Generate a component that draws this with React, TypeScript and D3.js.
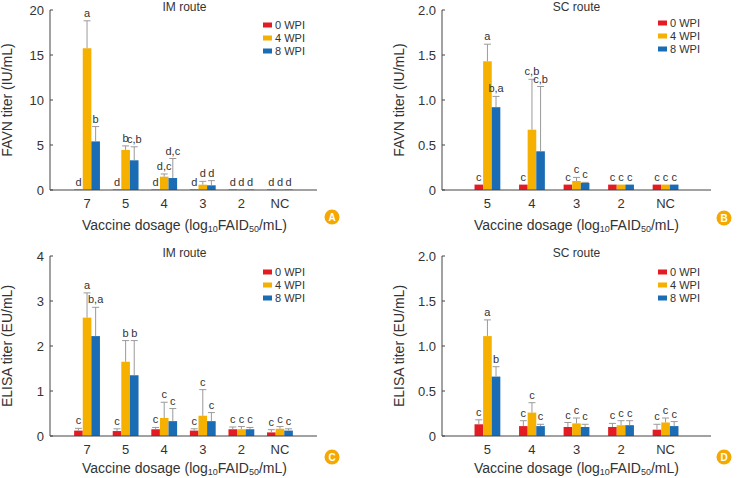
import React from "react";
import * as d3 from "d3";

const seriesNames = ["0 WPI", "4 WPI", "8 WPI"];
const seriesColors = ["#e31b23", "#f5b000", "#1a6cb5"];

const imDoses = ["7", "5", "4", "3", "2", "NC"];
const scDoses = ["5", "4", "3", "2", "NC"];

// Panel A: FAVN, IM route
const favnImMean = [
  [0.05, 0.05, 0.05, 0.05, 0.05, 0.05],
  [15.75, 4.45, 1.48, 0.59, 0.05, 0.05],
  [5.4, 3.3, 1.33, 0.52, 0.05, 0.05],
];
const favnImErr = [
  [0.05, 0.05, 0.05, 0.05, 0.05, 0.05],
  [18.8, 4.9, 1.78, 0.96, 0.05, 0.05],
  [7.05, 4.8, 3.5, 1.04, 0.05, 0.05],
];
const favnImLetters = [
  ["d", "d", "d", "d", "d", "d"],
  ["a", "b", "d,c", "d", "d", "d"],
  ["b", "c,b", "d,c", "d", "d", "d"],
];

// Panel B: FAVN, SC route
const favnScMean = [
  [0.06, 0.06, 0.06, 0.06, 0.06],
  [1.43, 0.67, 0.1, 0.06, 0.06],
  [0.92, 0.43, 0.08, 0.06, 0.06],
];
const favnScErr = [
  [0.06, 0.06, 0.06, 0.06, 0.06],
  [1.62, 1.23, 0.14, 0.06, 0.06],
  [1.04, 1.15, 0.085, 0.06, 0.06],
];
const favnScLetters = [
  ["c", "c", "c", "c", "c"],
  ["a", "c,b", "c", "c", "c"],
  ["b,a", "c,b", "c", "c", "c"],
];

// Panel C: ELISA, IM route
const elisaImMean = [
  [0.12, 0.11, 0.15, 0.12, 0.15, 0.08],
  [2.63, 1.65, 0.4, 0.45, 0.15, 0.16],
  [2.22, 1.35, 0.33, 0.33, 0.15, 0.12],
];
const elisaImErr = [
  [0.17, 0.16, 0.19, 0.16, 0.2, 0.14],
  [3.18, 2.12, 0.75, 1.03, 0.21, 0.21],
  [2.86, 2.12, 0.61, 0.52, 0.19, 0.16],
];
const elisaImLetters = [
  ["c", "c", "c", "c", "c", "c"],
  ["a", "b", "c", "c", "c", "c"],
  ["b,a", "b", "c", "c", "c", "c"],
];

// Panel D: ELISA, SC route
const elisaScMean = [
  [0.13, 0.11, 0.1, 0.1, 0.07],
  [1.11, 0.26, 0.14, 0.12, 0.15],
  [0.66, 0.11, 0.1, 0.12, 0.11],
];
const elisaScErr = [
  [0.18, 0.17, 0.15, 0.14, 0.13],
  [1.29, 0.37, 0.2, 0.17, 0.2],
  [0.77, 0.13, 0.13, 0.17, 0.16],
];
const elisaScLetters = [
  ["c", "c", "c", "c", "c"],
  ["a", "c", "c", "c", "c"],
  ["b", "c", "c", "c", "c"],
];

const favnImTicks = [0, 5, 10, 15, 20];
const favnScTicks = [0, 0.5, 1.0, 1.5, 2.0];
const elisaImTicks = [0, 1, 2, 3, 4];
const elisaScTicks = [0, 0.5, 1.0, 1.5, 2.0];

const FONT = "'Liberation Sans', Arial, sans-serif";

type PanelProps = {
  ox: number;
  oy: number;
  doses: string[];
  mean: number[][];
  err: number[][];
  letters: string[][];
  ticks: number[];
  tickFmt: (v: number) => string;
  title: string;
  yLabel: string;
  badge: string;
  legendY: number;
  legendX: number;
  padding: number;
  xTitleY: number;
  badgeY: number;
};

function Panel(p: PanelProps) {
  const x0 = 50;
  const x1 = p.doses.length === 5 ? 319 : 317;
  const yTop = 10;
  const yBot = 190;
  const yMax = p.ticks[p.ticks.length - 1];
  const y = d3.scaleLinear().domain([0, yMax]).range([yBot, yTop]);
  const x = d3.scalePoint<string>().domain(p.doses).range([x0, x1]).padding(p.padding);
  const bw = 8.6;
  const offsets = [-bw * 1.5, -bw * 0.5, bw * 0.5];
  const cx = (x0 + 317) / 2 + 1;
  return (
    <g transform={`translate(${p.ox},${p.oy})`}>
      <text x={cx} y={11} textAnchor="middle" fontSize={12} fill="#333">{p.title}</text>
      {p.mean.map((ser, si) =>
        ser.map((v, i) => {
          const bx = (x(p.doses[i]) as number) + offsets[si];
          return (
            <rect key={`b${si}-${i}`} x={bx} y={y(v)} width={bw} height={yBot - y(v)} fill={seriesColors[si]} />
          );
        })
      )}
      {p.err.map((ser, si) =>
        ser.map((e, i) => {
          const v = p.mean[si][i];
          if (e <= v + 1e-9) return null;
          const c = (x(p.doses[i]) as number) + offsets[si] + bw / 2;
          return (
            <g key={`e${si}-${i}`} stroke="#9a9a9a" strokeWidth={1}>
              <line x1={c} x2={c} y1={y(v)} y2={y(e)} />
              <line x1={c - 3.5} x2={c + 3.5} y1={y(e)} y2={y(e)} />
            </g>
          );
        })
      )}
      {p.letters.map((ser, si) =>
        ser.map((t, i) => {
          const top = Math.max(p.err[si][i], p.mean[si][i]);
          const c = (x(p.doses[i]) as number) + offsets[si] + bw / 2;
          return (
            <text key={`l${si}-${i}`} x={c} y={y(top) - 4} textAnchor="middle" fontSize={11} fill="#333">{t}</text>
          );
        })
      )}
      <line x1={x0} x2={x0} y1={yTop} y2={yBot} stroke="#444" strokeWidth={1} />
      <line x1={x0} x2={x1} y1={yBot} y2={yBot} stroke="#444" strokeWidth={1} />
      {p.ticks.map((t) => (
        <g key={`t${t}`}>
          <line x1={x0} x2={x0 + 3} y1={y(t)} y2={y(t)} stroke="#444" />
          <text x={x0 - 6} y={y(t) + 4.5} textAnchor="end" fontSize={13} fill="#333">{p.tickFmt(t)}</text>
        </g>
      ))}
      {p.doses.map((d) => (
        <text key={`x${d}`} x={x(d) as number} y={208} textAnchor="middle" fontSize={13} fill="#333">{d}</text>
      ))}
      <text transform={`translate(12,100) rotate(-90)`} textAnchor="middle" fontSize={14} fill="#333">{p.yLabel}</text>
      <text x={cx} y={p.xTitleY} textAnchor="middle" fontSize={14} fill="#333">
        Vaccine dosage (log
        <tspan fontSize={9} dy={2}>10</tspan>
        <tspan dy={-2}>FAID</tspan>
        <tspan fontSize={9} dy={2}>50</tspan>
        <tspan dy={-2}>/mL)</tspan>
      </text>
      {seriesNames.map((n, si) => (
        <g key={`lg${si}`} transform={`translate(${p.legendX},${p.legendY + si * 13})`}>
          <rect x={0} y={-2.5} width={9} height={5} fill={seriesColors[si]} />
          <text x={12} y={4} fontSize={11} fill="#333">{n}</text>
        </g>
      ))}
      <circle cx={332} cy={p.badgeY} r={7.5} fill="#f5a800" />
      <text x={332} y={p.badgeY + 4} textAnchor="middle" fontSize={10} fontWeight="bold" fill="#fff">{p.badge}</text>
    </g>
  );
}

const fmtInt = (v: number) => String(v);
const fmt1 = (v: number) => (v === 0 ? "0" : v.toFixed(1));

export default function App() {
  return (
    <svg width={742} height={478} style={{ position: "absolute", left: 0, top: 0, background: "#fff", fontFamily: FONT }}>
      <Panel ox={0} oy={0} doses={imDoses} mean={favnImMean} err={favnImErr} letters={favnImLetters}
        ticks={favnImTicks} tickFmt={fmtInt} title="IM route" yLabel="FAVN titer (IU/mL)" badge="A"
        legendX={263} legendY={25} padding={0.96} xTitleY={230} badgeY={217} />
      <Panel ox={392} oy={0} doses={scDoses} mean={favnScMean} err={favnScErr} letters={favnScLetters}
        ticks={favnScTicks} tickFmt={fmt1} title="SC route" yLabel="FAVN titer (IU/mL)" badge="B"
        legendX={266} legendY={23} padding={1.02} xTitleY={230} badgeY={218} />
      <Panel ox={0} oy={246} doses={imDoses} mean={elisaImMean} err={elisaImErr} letters={elisaImLetters}
        ticks={elisaImTicks} tickFmt={fmtInt} title="IM route" yLabel="ELISA titer (EU/mL)" badge="C"
        legendX={263} legendY={26} padding={0.96} xTitleY={227} badgeY={211} />
      <Panel ox={392} oy={246} doses={scDoses} mean={elisaScMean} err={elisaScErr} letters={elisaScLetters}
        ticks={elisaScTicks} tickFmt={fmt1} title="SC route" yLabel="ELISA titer (EU/mL)" badge="D"
        legendX={266} legendY={26} padding={1.02} xTitleY={227} badgeY={211} />
    </svg>
  );
}
